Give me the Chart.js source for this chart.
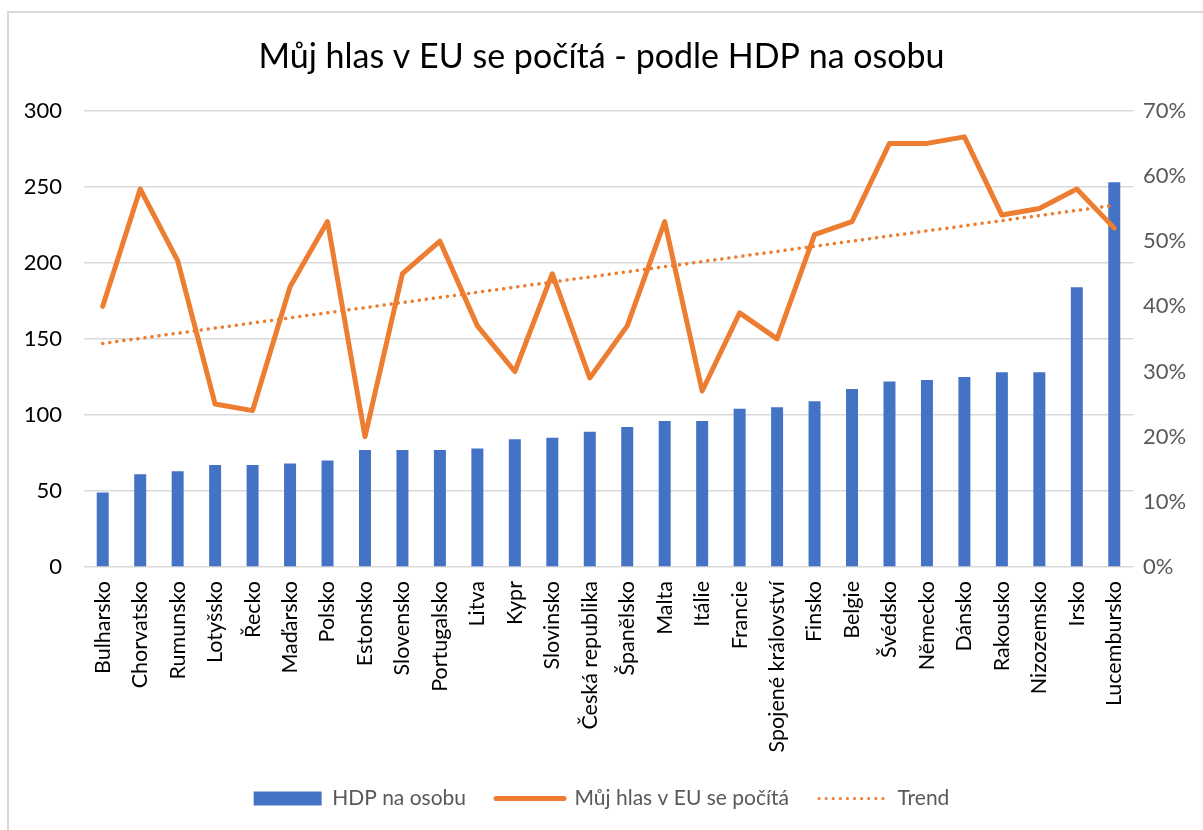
<!DOCTYPE html>
<html>
<head>
<meta charset="utf-8">
<script src="https://cdn.jsdelivr.net/npm/chart.js@4.4.1/dist/chart.umd.min.js"></script>
<style>
  html, body { margin: 0; padding: 0; background: #fff; }
  #wrap { position: absolute; left: 0; top: 0; width: 1203px; height: 830px; }
  #frame { position: absolute; left: 7px; top: 11px; width: 1220px; height: 840px; border: 2px solid #d9d9d9; box-sizing: border-box; pointer-events: none; }
</style>
</head>
<body>
<div id="wrap"><canvas id="c" width="1203" height="830"></canvas></div>
<div id="frame"></div>
<script>
const categories = ["Bulharsko","Chorvatsko","Rumunsko","Lotyšsko","Řecko","Maďarsko","Polsko","Estonsko","Slovensko","Portugalsko","Litva","Kypr","Slovinsko","Česká republika","Španělsko","Malta","Itálie","Francie","Spojené království","Finsko","Belgie","Švédsko","Německo","Dánsko","Rakousko","Nizozemsko","Irsko","Lucembursko"];
const hdpValues = [49,61,63,67,67,68,70,77,77,77,78,84,85,89,92,96,96,104,105,109,117,122,123,125,128,128,184,253];
const hlasValues = [40,58,47,25,24,43,53,20,45,50,37,30,45,29,37,53,27,39,35,51,53,65,65,66,54,55,58,52];
const trendPoints = [{x:"Bulharsko", y:34.3}, {x:"Lucembursko", y:55.5}];
const leftTicks = [0,50,100,150,200,250,300];
const rightTicks = [0,10,20,30,40,50,60,70];

const FONT = "Lato, 'Open Sans', sans-serif";
const BLUE = "#4472C4", ORANGE = "#ED7D31";

new Chart(document.getElementById('c'), {
  data: {
    labels: categories,
    datasets: [
      { type: 'bar', label: 'HDP na osobu', data: hdpValues, backgroundColor: BLUE, yAxisID: 'y', order: 3,
        categoryPercentage: 0.8, barPercentage: 0.4 },
      { type: 'line', label: 'Můj hlas v EU se počítá', data: hlasValues, borderColor: ORANGE, borderWidth: 5,
        pointRadius: 0, borderJoinStyle: 'round', borderCapStyle: 'round', yAxisID: 'y2', order: 1, tension: 0 },
      { type: 'line', label: 'Trend', data: trendPoints, borderColor: ORANGE, borderWidth: 3.5,
        borderDash: [0.1, 7], borderCapStyle: 'round', pointRadius: 0, yAxisID: 'y2', order: 2 }
    ]
  },
  options: {
    responsive: false,
    animation: false,
    devicePixelRatio: 1,
    layout: { padding: { left: 0, right: 0, top: 0, bottom: 11 } },
    plugins: {
      tooltip: { enabled: false },
      title: { display: true, text: 'Můj hlas v EU se počítá - podle HDP na osobu', color: '#000',
        font: { family: FONT, size: 34, weight: 'normal' }, padding: { top: 37, bottom: 33 } },
      legend: {
        position: 'bottom',
        labels: {
          color: '#595959', font: { family: FONT, size: 21 }, padding: 30,
          usePointStyle: true, pointStyleWidth: 68, boxHeight: 14,
          generateLabels: (chart) => [
            { text: 'HDP na osobu', pointStyle: 'rect', fillStyle: BLUE, strokeStyle: BLUE, lineWidth: 0, datasetIndex: 0, fontColor: '#595959' },
            { text: 'Můj hlas v EU se počítá', pointStyle: 'line', fillStyle: ORANGE, strokeStyle: ORANGE, lineWidth: 5, lineCap: 'round', datasetIndex: 1, fontColor: '#595959' },
            { text: 'Trend', pointStyle: 'line', fillStyle: ORANGE, strokeStyle: ORANGE, lineWidth: 3, lineCap: 'round', lineDash: [0.1, 7], datasetIndex: 2, fontColor: '#595959' }
          ]
        }
      }
    },
    scales: {
      x: {
        grid: { display: false }, border: { display: false },
        ticks: { color: '#000', font: { family: FONT, size: 21.5 }, minRotation: 90, maxRotation: 90, autoSkip: false, padding: 6 },
        afterFit: (s) => { s.height = 191; s.paddingLeft = 0; s.paddingRight = 0; }
      },
      y: {
        position: 'left', min: 0, max: 300,
        afterBuildTicks: (s) => { s.ticks = leftTicks.map(v => ({ value: v })); },
        grid: { color: '#d9d9d9', lineWidth: 1.5, drawTicks: false }, border: { display: false },
        ticks: { color: '#000', font: { family: FONT, size: 22 }, padding: 22 },
        afterFit: (s) => { s.width = 84; }
      },
      y2: {
        position: 'right', min: 0, max: 70,
        afterBuildTicks: (s) => { s.ticks = rightTicks.map(v => ({ value: v })); },
        grid: { display: false, drawTicks: false }, border: { display: false },
        ticks: { color: '#595959', font: { family: FONT, size: 22 }, padding: 10, callback: (v) => v + '%' },
        afterFit: (s) => { s.width = 70; }
      }
    }
  }
});
</script>
</body>
</html>
